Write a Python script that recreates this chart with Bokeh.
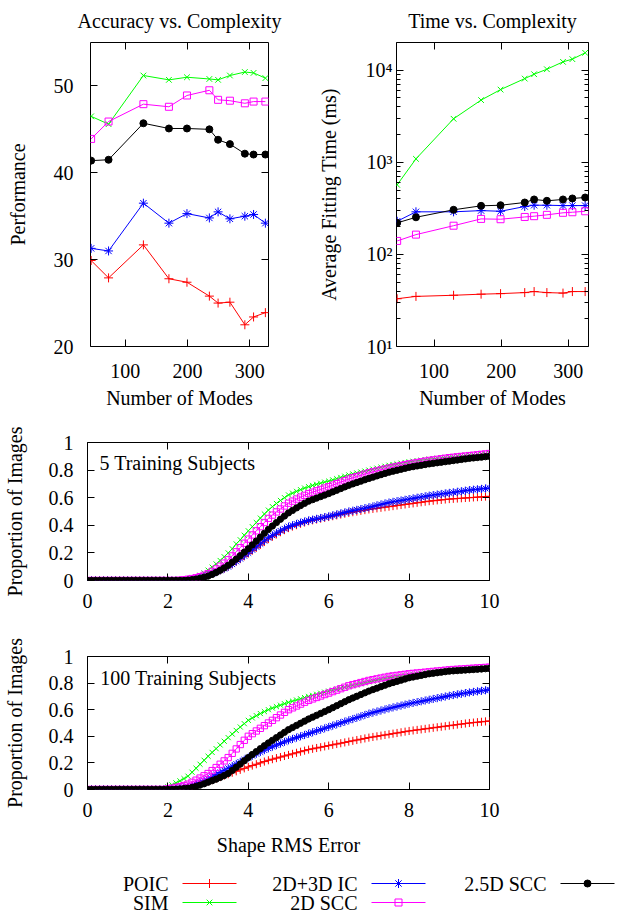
from bokeh.plotting import figure
from bokeh.layouts import column, row
from bokeh.models import (Range1d, LinearAxis, LogAxis, FixedTicker, Label,
                          CustomJSTickFormatter)
from bokeh.embed import file_html
from bokeh.resources import INLINE
from bokeh.core.properties import value

FONT = "Liberation Serif"
FS = "20px"

# ---------------- data ----------------
names = ["POIC", "SIM", "2D+3D IC", "2D SCC", "2.5D SCC"]
colors = ["#ff0000", "#00ff00", "#0000ff", "#ff00ff", "#000000"]
markers = ["cross", "x", "asterisk", "square", "circle"]

modes = [45, 73, 129, 170, 199, 235, 249, 268, 292, 306, 325]

perf_poic = [29.9, 27.9, 31.7, 27.8, 27.4, 25.8, 25.0, 25.1, 22.5, 23.4, 23.9]
perf_sim = [46.5, 45.6, 51.2, 50.7, 51.0, 50.8, 50.7, 51.2, 51.6, 51.5, 50.9]
perf_2d3d = [31.3, 31.0, 36.5, 34.2, 35.3, 34.8, 35.5, 34.7, 35.0, 35.2, 34.2]
perf_2dscc = [43.9, 45.9, 47.9, 47.6, 48.9, 49.5, 48.4, 48.3, 48.0, 48.2, 48.2]
perf_25dscc = [41.4, 41.5, 45.7, 45.1, 45.1, 45.0, 43.8, 43.3, 42.2, 42.1, 42.1]

time_poic = [33, 35, 36, 37, 37.5, 38.5, 39.5, 38.5, 38, 39.5, 39.5]
time_sim = [570, 1090, 2970, 4740, 6160, 8110, 9050, 10250, 12330, 13190, 15450]
time_2d3d = [229, 290, 290, 299, 294, 331, 342, 342, 339, 339, 339]
time_2dscc = [140, 164, 205, 243, 241, 255, 260, 269, 283, 287, 294]
time_25dscc = [220, 253, 305, 337, 342, 366, 395, 382, 395, 405, 415]

err = [i / 10 for i in range(101)]

cdf5_poic = [
    0, 0, 0, 0, 0, 0, 0, 0, 0, 0,
    0, 0, 0, 0, 0, 0, 0, 0, 0, 0,
    0, 0, 0, 0, 0.002, 0.005, 0.009, 0.015, 0.022, 0.03,
    0.04, 0.05, 0.061, 0.073, 0.086, 0.10, 0.117, 0.136, 0.155, 0.175,
    0.195, 0.216, 0.237, 0.258, 0.279, 0.30, 0.317, 0.334, 0.35, 0.365,
    0.38, 0.391, 0.401, 0.411, 0.42, 0.43, 0.436, 0.442, 0.448, 0.454,
    0.46, 0.466, 0.472, 0.478, 0.484, 0.49, 0.495, 0.50, 0.505, 0.51,
    0.515, 0.519, 0.523, 0.527, 0.531, 0.535, 0.539, 0.543, 0.547, 0.551,
    0.555, 0.559, 0.563, 0.567, 0.571, 0.575, 0.578, 0.581, 0.584, 0.587,
    0.59, 0.592, 0.594, 0.596, 0.598, 0.60, 0.602, 0.604, 0.606, 0.608,
    0.61]
cdf5_sim = [
    0, 0, 0, 0, 0, 0, 0, 0, 0, 0,
    0, 0, 0, 0, 0, 0, 0, 0, 0, 0,
    0, 0, 0, 0, 0.003, 0.008, 0.015, 0.025, 0.038, 0.055,
    0.075, 0.097, 0.12, 0.145, 0.172, 0.20, 0.23, 0.265, 0.295, 0.328,
    0.36, 0.39, 0.42, 0.452, 0.482, 0.51, 0.535, 0.558, 0.58, 0.60,
    0.62, 0.633, 0.646, 0.658, 0.67, 0.68, 0.689, 0.697, 0.705, 0.713,
    0.72, 0.729, 0.738, 0.747, 0.756, 0.765, 0.772, 0.779, 0.786, 0.793,
    0.80, 0.807, 0.814, 0.821, 0.828, 0.835, 0.84, 0.845, 0.85, 0.855,
    0.86, 0.864, 0.868, 0.872, 0.876, 0.88, 0.883, 0.886, 0.889, 0.892,
    0.895, 0.898, 0.901, 0.904, 0.907, 0.91, 0.912, 0.914, 0.916, 0.918,
    0.92]
cdf5_2d3d = [
    0, 0, 0, 0, 0, 0, 0, 0, 0, 0,
    0, 0, 0, 0, 0, 0, 0, 0, 0, 0,
    0, 0, 0, 0, 0.002, 0.005, 0.009, 0.015, 0.022, 0.03,
    0.04, 0.05, 0.061, 0.073, 0.086, 0.10, 0.118, 0.138, 0.158, 0.179,
    0.20, 0.222, 0.244, 0.266, 0.288, 0.31, 0.327, 0.344, 0.36, 0.375,
    0.39, 0.40, 0.41, 0.419, 0.427, 0.435, 0.441, 0.447, 0.453, 0.459,
    0.465, 0.472, 0.479, 0.486, 0.493, 0.50, 0.506, 0.512, 0.518, 0.524,
    0.53, 0.537, 0.544, 0.551, 0.558, 0.565, 0.57, 0.575, 0.58, 0.585,
    0.59, 0.595, 0.60, 0.605, 0.61, 0.615, 0.619, 0.623, 0.627, 0.631,
    0.635, 0.639, 0.643, 0.647, 0.651, 0.655, 0.658, 0.661, 0.664, 0.667,
    0.67]
cdf5_2dscc = [
    0, 0, 0, 0, 0, 0, 0, 0, 0, 0,
    0, 0, 0, 0, 0, 0, 0, 0, 0, 0,
    0, 0, 0, 0.002, 0.005, 0.009, 0.014, 0.02, 0.028, 0.038,
    0.05, 0.066, 0.084, 0.104, 0.126, 0.15, 0.178, 0.208, 0.238, 0.27,
    0.30, 0.33, 0.36, 0.39, 0.42, 0.45, 0.474, 0.497, 0.518, 0.54,
    0.56, 0.575, 0.59, 0.604, 0.617, 0.63, 0.64, 0.65, 0.66, 0.67,
    0.68, 0.691, 0.702, 0.713, 0.724, 0.735, 0.744, 0.753, 0.762, 0.771,
    0.78, 0.787, 0.794, 0.801, 0.808, 0.815, 0.821, 0.827, 0.833, 0.839,
    0.845, 0.85, 0.855, 0.86, 0.865, 0.87, 0.874, 0.878, 0.882, 0.886,
    0.89, 0.893, 0.896, 0.899, 0.902, 0.905, 0.908, 0.911, 0.914, 0.917,
    0.92]
cdf5_25dscc = [
    0, 0, 0, 0, 0, 0, 0, 0, 0, 0,
    0, 0, 0, 0, 0, 0, 0, 0, 0, 0,
    0, 0, 0, 0, 0, 0.003, 0.006, 0.01, 0.016, 0.023,
    0.032, 0.044, 0.058, 0.074, 0.091, 0.11, 0.132, 0.155, 0.18, 0.205,
    0.23, 0.258, 0.286, 0.314, 0.342, 0.37, 0.395, 0.42, 0.444, 0.467,
    0.49, 0.508, 0.526, 0.543, 0.559, 0.575, 0.586, 0.597, 0.608, 0.619,
    0.63, 0.642, 0.654, 0.666, 0.678, 0.69, 0.70, 0.71, 0.72, 0.73,
    0.74, 0.749, 0.758, 0.767, 0.776, 0.785, 0.792, 0.799, 0.806, 0.813,
    0.82, 0.825, 0.83, 0.835, 0.84, 0.845, 0.849, 0.853, 0.857, 0.861,
    0.865, 0.869, 0.873, 0.877, 0.881, 0.885, 0.888, 0.891, 0.894, 0.897,
    0.90]

cdf100_poic = [
    0, 0, 0, 0, 0, 0, 0, 0, 0, 0,
    0, 0, 0, 0, 0, 0, 0, 0, 0, 0,
    0, 0.003, 0.006, 0.01, 0.015, 0.02, 0.027, 0.035, 0.043, 0.051,
    0.06, 0.071, 0.082, 0.093, 0.104, 0.115, 0.126, 0.137, 0.148, 0.159,
    0.17, 0.18, 0.19, 0.20, 0.21, 0.22, 0.228, 0.236, 0.244, 0.252,
    0.26, 0.268, 0.276, 0.284, 0.292, 0.30, 0.306, 0.312, 0.318, 0.324,
    0.33, 0.336, 0.342, 0.348, 0.354, 0.36, 0.366, 0.372, 0.378, 0.384,
    0.39, 0.395, 0.40, 0.405, 0.41, 0.415, 0.42, 0.425, 0.43, 0.435,
    0.44, 0.444, 0.448, 0.452, 0.456, 0.46, 0.464, 0.468, 0.472, 0.476,
    0.48, 0.484, 0.488, 0.492, 0.496, 0.50, 0.503, 0.506, 0.509, 0.512,
    0.515]
cdf100_sim = [
    0, 0, 0, 0, 0, 0, 0, 0, 0, 0,
    0, 0, 0, 0, 0, 0, 0, 0, 0.003, 0.008,
    0.02, 0.035, 0.05, 0.065, 0.082, 0.10, 0.13, 0.16, 0.19, 0.22,
    0.25, 0.279, 0.307, 0.335, 0.363, 0.39, 0.417, 0.444, 0.47, 0.495,
    0.52, 0.538, 0.555, 0.571, 0.586, 0.60, 0.612, 0.623, 0.634, 0.645,
    0.655, 0.664, 0.673, 0.682, 0.691, 0.70, 0.708, 0.716, 0.724, 0.732,
    0.74, 0.747, 0.754, 0.761, 0.768, 0.775, 0.782, 0.789, 0.796, 0.803,
    0.81, 0.816, 0.822, 0.828, 0.834, 0.84, 0.844, 0.848, 0.852, 0.856,
    0.86, 0.864, 0.868, 0.872, 0.876, 0.88, 0.883, 0.886, 0.889, 0.892,
    0.895, 0.897, 0.899, 0.901, 0.903, 0.905, 0.907, 0.909, 0.911, 0.913,
    0.915]
cdf100_2d3d = [
    0, 0, 0, 0, 0, 0, 0, 0, 0, 0,
    0, 0, 0, 0, 0, 0, 0, 0, 0, 0,
    0, 0.003, 0.006, 0.01, 0.015, 0.02, 0.03, 0.041, 0.053, 0.066,
    0.08, 0.096, 0.112, 0.128, 0.144, 0.16, 0.176, 0.192, 0.208, 0.224,
    0.24, 0.254, 0.268, 0.282, 0.296, 0.31, 0.322, 0.334, 0.346, 0.358,
    0.37, 0.38, 0.39, 0.40, 0.41, 0.42, 0.43, 0.44, 0.45, 0.46,
    0.47, 0.48, 0.49, 0.50, 0.51, 0.52, 0.53, 0.54, 0.55, 0.56,
    0.57, 0.578, 0.586, 0.594, 0.602, 0.61, 0.617, 0.624, 0.631, 0.638,
    0.645, 0.651, 0.657, 0.663, 0.669, 0.675, 0.681, 0.687, 0.693, 0.699,
    0.705, 0.71, 0.715, 0.72, 0.725, 0.73, 0.734, 0.738, 0.742, 0.746,
    0.75]
cdf100_2dscc = [
    0, 0, 0, 0, 0, 0, 0, 0, 0, 0,
    0, 0, 0, 0, 0, 0, 0, 0, 0, 0,
    0.005, 0.01, 0.016, 0.022, 0.03, 0.04, 0.054, 0.07, 0.086, 0.103,
    0.12, 0.142, 0.165, 0.19, 0.215, 0.24, 0.272, 0.305, 0.338, 0.37,
    0.40, 0.42, 0.44, 0.46, 0.48, 0.50, 0.52, 0.54, 0.56, 0.58,
    0.60, 0.614, 0.628, 0.642, 0.656, 0.67, 0.681, 0.692, 0.703, 0.714,
    0.725, 0.736, 0.747, 0.758, 0.769, 0.78, 0.788, 0.796, 0.804, 0.812,
    0.82, 0.826, 0.832, 0.838, 0.844, 0.85, 0.854, 0.858, 0.862, 0.866,
    0.87, 0.873, 0.876, 0.879, 0.882, 0.885, 0.888, 0.891, 0.894, 0.897,
    0.90, 0.902, 0.904, 0.906, 0.908, 0.91, 0.912, 0.914, 0.916, 0.918,
    0.92]
cdf100_25dscc = [
    0, 0, 0, 0, 0, 0, 0, 0, 0, 0,
    0, 0, 0, 0, 0, 0, 0, 0, 0, 0,
    0, 0, 0.002, 0.004, 0.007, 0.01, 0.016, 0.024, 0.033, 0.043,
    0.055, 0.066, 0.078, 0.091, 0.105, 0.12, 0.143, 0.167, 0.191, 0.216,
    0.24, 0.263, 0.285, 0.307, 0.329, 0.35, 0.37, 0.39, 0.41, 0.43,
    0.45, 0.466, 0.482, 0.498, 0.514, 0.53, 0.544, 0.558, 0.572, 0.586,
    0.60, 0.615, 0.63, 0.645, 0.66, 0.675, 0.688, 0.701, 0.714, 0.727,
    0.74, 0.751, 0.762, 0.773, 0.784, 0.795, 0.804, 0.813, 0.822, 0.831,
    0.84, 0.846, 0.852, 0.858, 0.864, 0.87, 0.874, 0.878, 0.882, 0.886,
    0.89, 0.892, 0.894, 0.896, 0.898, 0.90, 0.902, 0.904, 0.906, 0.908,
    0.91]

perf_series = [perf_poic, perf_sim, perf_2d3d, perf_2dscc, perf_25dscc]
time_series = [time_poic, time_sim, time_2d3d, time_2dscc, time_25dscc]
cdf5_series = [cdf5_poic, cdf5_sim, cdf5_2d3d, cdf5_2dscc, cdf5_25dscc]
cdf100_series = [cdf100_poic, cdf100_sim, cdf100_2d3d, cdf100_2dscc, cdf100_25dscc]

err_ticks = [0, 2, 4, 6, 8, 10]
prop_ticks = [0, 0.2, 0.4, 0.6, 0.8, 1]
perf_ticks = [20, 30, 40, 50]
mode_ticks = [100, 200, 300]
time_ticks = [10, 100, 1000, 10000]

# ---------------- helpers ----------------
BLANK = CustomJSTickFormatter(code="return ''")
PROP_FMT = CustomJSTickFormatter(code="return String(Math.round(tick * 10) / 10);")
POW_FMT = CustomJSTickFormatter(code="""
const sup = {'0':'\u2070','1':'\u00b9','2':'\u00b2','3':'\u00b3','4':'\u2074','5':'\u2075'};
const e = Math.round(Math.log10(tick));
return '10' + String(e).split('').map(c => sup[c]).join('');
""")


def style_axis(ax, ticker, fmt=None, label=None, minor=False, standoff=12, label_standoff=10):
    ax.ticker = ticker
    if fmt is not None:
        ax.formatter = fmt
    ax.axis_line_color = None
    ax.major_tick_line_color = "black"
    ax.major_tick_in = 7
    ax.major_tick_out = 0
    if minor:
        ax.minor_tick_line_color = "black"
        ax.minor_tick_in = 4
        ax.minor_tick_out = 0
    else:
        ax.minor_tick_line_color = None
    ax.major_label_text_font = FONT
    ax.major_label_text_font_size = FS
    ax.major_label_text_color = "black"
    ax.major_label_standoff = standoff
    ax.axis_label_text_font = FONT
    ax.axis_label_text_font_size = FS
    ax.axis_label_text_font_style = "normal"
    ax.axis_label_text_color = "black"
    ax.axis_label_standoff = label_standoff
    if label:
        ax.axis_label = label


def make_fig(w, h, left, right, top, bottom, xr, yr, ylog=False):
    p = figure(width=w, height=h,
               min_border_left=left, min_border_right=right,
               min_border_top=top, min_border_bottom=bottom,
               x_range=xr, y_range=yr,
               y_axis_type="log" if ylog else "linear",
               output_backend="svg", toolbar_location=None)
    p.frame_align = False
    p.grid.visible = False
    p.outline_line_color = "black"
    p.outline_line_width = 1
    p.outline_line_alpha = 1
    p.background_fill_color = "white"
    p.border_fill_color = "white"
    return p


def add_mirror(p, xticker, yticker, ylog=False, yminor=False):
    ax_r = LogAxis() if ylog else LinearAxis()
    style_axis(ax_r, yticker, BLANK, minor=yminor, standoff=0)
    ax_r.major_label_text_font_size = "0px"
    p.add_layout(ax_r, "right")
    ax_t = LinearAxis()
    style_axis(ax_t, xticker, BLANK, standoff=0)
    ax_t.major_label_text_font_size = "0px"
    p.add_layout(ax_t, "above")


def draw_series(p, x, series, size_scale=1.0):
    sizes = [9, 8, 9, 7, 7]
    for ys, c, m, s in zip(series, colors, markers, sizes):
        p.line(x, ys, line_color=c, line_width=1)
        if m == "square":
            p.scatter(x, ys, marker=m, size=s * size_scale, line_color=c,
                      fill_color=None, line_width=1)
        elif m == "circle":
            p.scatter(x, ys, marker=m, size=s * size_scale, line_color=c,
                      fill_color=c, line_width=1)
        else:
            p.scatter(x, ys, marker=m, size=s * size_scale, line_color=c,
                      line_width=1)


def set_title(p, text):
    p.title.text = text
    p.title.align = "center"
    p.title.vertical_align = "top"
    p.title.text_font = FONT
    p.title.text_font_size = FS
    p.title.text_font_style = "normal"
    p.title.text_color = "black"
    p.title.standoff = 18


# ---------------- top-left: accuracy ----------------
pA = make_fig(314, 418, 90, 46, 42, 72, Range1d(44, 330), Range1d(20, 55))
set_title(pA, "Accuracy vs. Complexity")
style_axis(pA.xaxis[0], FixedTicker(ticks=mode_ticks), label="Number of Modes",
           standoff=17, label_standoff=6)
style_axis(pA.yaxis[0], FixedTicker(ticks=perf_ticks), label="Performance",
           standoff=17, label_standoff=22)
add_mirror(pA, FixedTicker(ticks=mode_ticks), FixedTicker(ticks=perf_ticks))
draw_series(pA, modes, perf_series)

# ---------------- top-right: time ----------------
minor_time = [m * 10 ** e for e in range(1, 5) for m in range(2, 10)]
pB = make_fig(314, 418, 81, 40, 42, 72, Range1d(44, 330), Range1d(10, 20000), ylog=True)
set_title(pB, "Time vs. Complexity")
style_axis(pB.xaxis[0], FixedTicker(ticks=mode_ticks), label="Number of Modes",
           standoff=17, label_standoff=6)
style_axis(pB.yaxis[0], FixedTicker(ticks=time_ticks, minor_ticks=minor_time), POW_FMT,
           label="Average Fitting Time (ms)", minor=True, standoff=4, label_standoff=23)
add_mirror(pB, FixedTicker(ticks=mode_ticks),
           FixedTicker(ticks=time_ticks, minor_ticks=minor_time), ylog=True, yminor=True)
draw_series(pB, modes, time_series)

# ---------------- middle: 5 subjects ----------------
pC = make_fig(628, 207, 87, 139, 24, 45, Range1d(0, 10), Range1d(0, 1))
style_axis(pC.xaxis[0], FixedTicker(ticks=err_ticks), standoff=13)
style_axis(pC.yaxis[0], FixedTicker(ticks=prop_ticks), PROP_FMT,
           label="Proportion of Images", standoff=14, label_standoff=20)
add_mirror(pC, FixedTicker(ticks=err_ticks), FixedTicker(ticks=prop_ticks))
draw_series(pC, err, cdf5_series, size_scale=0.9)
pC.add_layout(Label(x=0.3, y=0.855, text="5 Training Subjects", text_font=FONT,
                    text_font_size=FS, text_baseline="middle", text_color="black"))

# ---------------- bottom: 100 subjects ----------------
pD = make_fig(628, 233, 87, 139, 31, 69, Range1d(0, 10), Range1d(0, 1))
style_axis(pD.xaxis[0], FixedTicker(ticks=err_ticks), label="Shape RMS Error",
           standoff=13, label_standoff=14)
style_axis(pD.yaxis[0], FixedTicker(ticks=prop_ticks), PROP_FMT,
           label="Proportion of Images", standoff=14, label_standoff=20)
add_mirror(pD, FixedTicker(ticks=err_ticks), FixedTicker(ticks=prop_ticks))
draw_series(pD, err, cdf100_series, size_scale=0.9)
pD.add_layout(Label(x=0.32, y=0.84, text="100 Training Subjects", text_font=FONT,
                    text_font_size=FS, text_baseline="middle", text_color="black"))

# ---------------- legend ----------------
pE = figure(width=628, height=57, x_range=Range1d(0, 628), y_range=Range1d(57, 0),
            output_backend="svg", toolbar_location=None, title=None,
            min_border=0, min_border_left=0, min_border_right=0,
            min_border_top=0, min_border_bottom=0)
pE.frame_align = False
pE.axis.visible = False
pE.grid.visible = False
pE.outline_line_color = None
leg_right = [168, 168, 357, 357, 546]
leg_y = [25, 44, 25, 44, 25]
pE.text(x=leg_right, y=leg_y, text=names, text_align="right", text_baseline="middle",
        text_font=value(FONT), text_font_size=FS, text_color="black")
x0 = [r + 14 for r in leg_right]
x1 = [r + 68 for r in leg_right]
xm = [r + 41 for r in leg_right]
pE.segment(x0=x0, y0=leg_y, x1=x1, y1=leg_y, line_color=colors, line_width=1)
sizes = [9, 8, 9, 7, 7]
fills = [None, None, None, None, "#000000"]
for i in range(5):
    pE.scatter([xm[i]], [leg_y[i]], marker=markers[i], size=sizes[i],
               line_color=colors[i], fill_color=fills[i], line_width=1)

layout = column(row(pA, pB), pC, pD, pE)
open("out.html", "w").write(file_html(layout, INLINE))
